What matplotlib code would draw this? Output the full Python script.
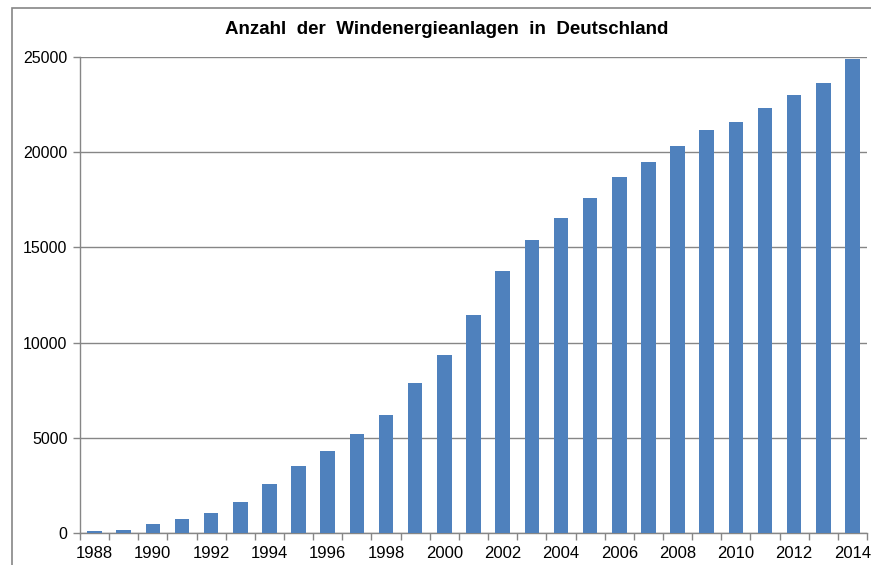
import numpy as np
import matplotlib
matplotlib.use("Agg")
import matplotlib.pyplot as plt
from matplotlib.patches import Rectangle

years = list(range(1988, 2015))
anlagen = [80, 180, 470, 750, 1050, 1650, 2550, 3520, 4330, 5190, 6200, 7860,
           9360, 11440, 13760, 15390, 16540, 17570, 18690, 19460, 20300, 21160,
           21610, 22300, 23030, 23650, 24870]
yticks = [0, 5000, 10000, 15000, 20000, 25000]

plt.rcParams['font.family'] = ['Liberation Sans', 'DejaVu Sans']

fig = plt.figure(figsize=(8.71, 5.65), dpi=100)
ax = fig.add_axes([80/871, 32/565, 787/871, 476/565])

grey = '#868686'
x = np.arange(len(years))
ax.bar(x, anlagen, width=0.5, color='#4F81BD', zorder=3)

ax.set_xlim(-0.5, len(years) - 0.5)
ax.set_ylim(0, 25000)
ax.set_yticks(yticks)
ax.set_yticklabels([str(v) for v in yticks], fontsize=11.5)
ax.grid(axis='y', color=grey, linewidth=1, zorder=0)

# ticks between categories, labels every 2nd year
ax.set_xticks(np.arange(-0.5, len(years), 1.0))
ax.set_xticklabels([])
ax.set_xticks(x[::2], minor=True)
ax.set_xticklabels([str(y) for y in years[::2]], minor=True, fontsize=12)
ax.tick_params(axis='x', which='major', length=5, width=1, color=grey, direction='out')
ax.tick_params(axis='x', which='minor', length=0, pad=9)
ax.tick_params(axis='y', length=5, width=1, color=grey, pad=4)

for s in ['top', 'right']:
    ax.spines[s].set_visible(False)
for s in ['left', 'bottom']:
    ax.spines[s].set_color(grey)
    ax.spines[s].set_linewidth(1)

fig.text(447/871, 1 - 30/565, "Anzahl  der  Windenergieanlagen  in  Deutschland",
         ha='center', va='center', fontsize=13.5, fontweight='bold')

# outer chart frame (cut off at right and bottom)
fig.patches.append(Rectangle((12/871, -0.1), 1.2, 1 - 8/565 + 0.1,
                             transform=fig.transFigure, fill=False,
                             edgecolor=grey, linewidth=1.2, clip_on=False))

fig.savefig("out.png", dpi=100)
